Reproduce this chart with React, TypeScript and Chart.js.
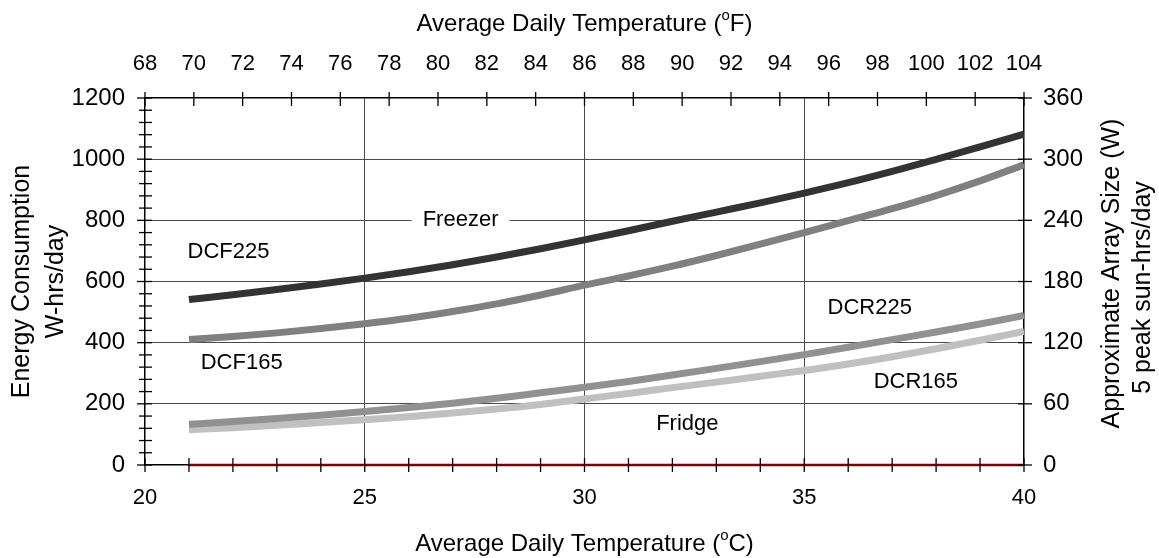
import React, { useEffect, useRef } from "react";
import { Chart, registerables } from "chart.js";

Chart.register(...registerables);

// ---- data ----
const tempC = [21, 22, 23, 24, 25, 26, 27, 28, 29, 30, 31, 32, 33, 34, 35, 36, 37, 38, 39, 40];
const dcf225 = [541, 557, 574, 592, 611, 632, 655, 680, 707, 736, 766, 797, 827, 857, 889, 923, 960, 999, 1040, 1082];
const dcf165 = [410, 420, 432, 446, 462, 480, 502, 527, 556, 588, 618, 650, 685, 722, 760, 799, 838, 881, 929, 982];
const dcr225 = [133, 142, 152, 163, 175, 188, 202, 218, 236, 254, 273, 294, 316, 338, 361, 385, 410, 435, 461, 489];
const dcr165 = [115, 122, 130, 139, 148, 158, 170, 183, 198, 216, 234, 253, 271, 290, 309, 330, 354, 380, 408, 437];
const baselineX = [21, 40];
const baselineY = [0, 0];

const tempCTicks = [20, 25, 30, 35, 40];
const tempFTicks = [68, 70, 72, 74, 76, 78, 80, 82, 84, 86, 88, 90, 92, 94, 96, 98, 100, 102, 104];
const energyTicks = [0, 200, 400, 600, 800, 1000, 1200];
const arrayTicks = [0, 60, 120, 180, 240, 300, 360];

const curveLabels = [
  { text: "Freezer", x: 27.18, y: 800, boxed: true },
  { text: "DCF225", x: 21.9, y: 696, boxed: false },
  { text: "DCF165", x: 22.2, y: 335, boxed: false },
  { text: "Fridge", x: 32.34, y: 133, boxed: false },
  { text: "DCR225", x: 36.49, y: 514, boxed: false },
  { text: "DCR165", x: 37.54, y: 273, boxed: false },
];

const FONT = '"Liberation Sans", Arial, Helvetica, sans-serif';
const X_TICK_SIZE = 22;
const Y_TICK_SIZE = 24;
const LABEL_SIZE = 22;
const TITLE_SIZE = 24;
const VTITLE_SIZE = 25;

const pts = (xs: number[], ys: number[]) => xs.map((x, i) => ({ x, y: ys[i] }));

const overlayPlugin = {
  id: "overlay",
  afterDatasetsDraw(chart: any) {
    const { ctx, scales } = chart;
    const sx = scales.x;
    const sy = scales.y;
    ctx.save();
    ctx.font = `${LABEL_SIZE}px ${FONT}`;
    ctx.textAlign = "center";
    ctx.textBaseline = "middle";
    for (const l of curveLabels) {
      const px = sx.getPixelForValue(l.x);
      const py = sy.getPixelForValue(l.y);
      if (l.boxed) {
        const w = ctx.measureText(l.text).width + 22;
        ctx.fillStyle = "#ffffff";
        ctx.fillRect(px - w / 2, py - 12, w, 24);
      }
      ctx.fillStyle = "#000000";
      ctx.fillText(l.text, px, py);
    }
    ctx.restore();
  },
  afterDraw(chart: any) {
    const { ctx, scales, chartArea } = chart;
    const { left, right, top, bottom } = chartArea;
    ctx.save();
    ctx.strokeStyle = "#000000";
    ctx.lineWidth = 1.3;
    const line = (x1: number, y1: number, x2: number, y2: number) => {
      ctx.beginPath();
      ctx.moveTo(x1, y1);
      ctx.lineTo(x2, y2);
      ctx.stroke();
    };
    // left axis: minor every 40, major every 200
    const sy = scales.y;
    for (let v = sy.min; v <= sy.max + 0.001; v += 40) {
      const p = sy.getPixelForValue(v);
      const major = v % 200 === 0;
      line(left - (major ? 8 : 6), p, left + 7, p);
    }
    // right axis
    const sy2 = scales.y2;
    for (const v of arrayTicks) {
      const p = sy2.getPixelForValue(v);
      line(right - 6, p, right + 8, p);
    }
    // bottom axis: every 1 degC
    const sx = scales.x;
    for (let v = sx.min; v <= sx.max + 0.001; v += 1) {
      const p = sx.getPixelForValue(v);
      line(p, bottom - 7, p, bottom + 7);
    }
    // top axis: every 2 degF
    const sx2 = scales.x2;
    for (const v of tempFTicks) {
      const p = sx2.getPixelForValue(v);
      line(p, top - 6, p, top + 8);
    }

    // axis titles
    ctx.fillStyle = "#000000";
    ctx.textBaseline = "middle";
    const cx = (left + right) / 2;
    const cy = (top + bottom) / 2;
    const supTitle = (pre: string, sup: string, post: string, x: number, y: number) => {
      const big = `${TITLE_SIZE}px ${FONT}`;
      const small = `${Math.round(TITLE_SIZE * 0.62)}px ${FONT}`;
      ctx.font = big;
      const w1 = ctx.measureText(pre).width;
      const w3 = ctx.measureText(post).width;
      ctx.font = small;
      const w2 = ctx.measureText(sup).width;
      let x0 = x - (w1 + w2 + w3) / 2;
      ctx.textAlign = "left";
      ctx.font = big;
      ctx.fillText(pre, x0, y);
      x0 += w1;
      ctx.font = small;
      ctx.fillText(sup, x0, y - 8);
      x0 += w2;
      ctx.font = big;
      ctx.fillText(post, x0, y);
    };
    supTitle("Average Daily Temperature (", "o", "F)", cx, 24);
    supTitle("Average Daily Temperature (", "o", "C)", cx, 544);

    ctx.font = `${VTITLE_SIZE}px ${FONT}`;
    ctx.textAlign = "center";
    const vtext = (t: string, x: number, y: number) => {
      ctx.save();
      ctx.translate(x, y);
      ctx.rotate(-Math.PI / 2);
      ctx.fillText(t, 0, 0);
      ctx.restore();
    };
    vtext("Energy Consumption", 22, cy);
    vtext("W-hrs/day", 56, cy);
    vtext("Approximate Array Size (W)", 1112, cy - 8);
    vtext("5 peak sun-hrs/day", 1143, cy + 6);
    ctx.restore();
  },
};

export default function App() {
  const ref = useRef<HTMLCanvasElement | null>(null);

  useEffect(() => {
    if (!ref.current) return;
    const xFont = { family: FONT, size: X_TICK_SIZE };
    const yFont = { family: FONT, size: Y_TICK_SIZE };
    const plain = (v: any) => String(v);
    const gridColor = (ctx: any) => {
      const v = ctx.tick ? ctx.tick.value : null;
      const s = ctx.scale;
      if (v === s.min || v === s.max) return "rgba(0,0,0,0)";
      return "#4a4a4a";
    };
    const curve = (label: string, ys: number[], color: string, order: number) => ({
      label,
      data: pts(tempC, ys),
      borderColor: color,
      borderWidth: 7,
      pointRadius: 0,
      cubicInterpolationMode: "monotone",
      fill: false,
      order,
    });
    const chart = new Chart(ref.current, {
      type: "line",
      data: {
        datasets: [
          curve("DCF225", dcf225, "#333333", 4),
          curve("DCF165", dcf165, "#808080", 3),
          curve("DCR225", dcr225, "#919191", 1),
          curve("DCR165", dcr165, "#c0c0c0", 2),
          {
            label: "Zero",
            data: pts(baselineX, baselineY),
            borderColor: "#800000",
            borderWidth: 2.5,
            pointRadius: 0,
            fill: false,
            clip: false as any,
            order: 0,
          },
        ] as any,
      },
      options: {
        animation: false,
        responsive: false,
        devicePixelRatio: 1,
        layout: { padding: 0 },
        plugins: {
          legend: { display: false },
          tooltip: { enabled: false },
          title: { display: false },
        },
        scales: {
          x: {
            type: "linear",
            position: "bottom",
            min: 20,
            max: 40,
            afterBuildTicks: (s: any) => {
              s.ticks = tempCTicks.map((v) => ({ value: v }));
            },
            ticks: { font: xFont, color: "#000", padding: 20, maxRotation: 0, callback: plain },
            grid: { color: gridColor, lineWidth: 1, drawTicks: false },
            border: { color: "#000", width: 1.5 },
            afterFit: (s: any) => {
              s.height = 93;
            },
          },
          x2: {
            type: "linear",
            position: "top",
            min: 68,
            max: 104,
            afterBuildTicks: (s: any) => {
              s.ticks = tempFTicks.map((v) => ({ value: v }));
            },
            ticks: { font: xFont, color: "#000", padding: 21, maxRotation: 0, autoSkip: false, callback: plain },
            grid: { display: false, drawTicks: false },
            border: { color: "#000", width: 1.5 },
            afterFit: (s: any) => {
              s.height = 98;
            },
          },
          y: {
            type: "linear",
            position: "left",
            min: 0,
            max: 1200,
            afterBuildTicks: (s: any) => {
              s.ticks = energyTicks.map((v) => ({ value: v }));
            },
            ticks: { font: yFont, color: "#000", padding: 20, callback: plain },
            grid: { color: gridColor, lineWidth: 1, drawTicks: false },
            border: { color: "#000", width: 1.5 },
            afterFit: (s: any) => {
              s.width = 145;
            },
          },
          y2: {
            type: "linear",
            position: "right",
            min: 0,
            max: 360,
            afterBuildTicks: (s: any) => {
              s.ticks = arrayTicks.map((v) => ({ value: v }));
            },
            ticks: { font: yFont, color: "#000", padding: 19, callback: plain },
            grid: { display: false, drawTicks: false },
            border: { color: "#000", width: 1.5 },
            afterFit: (s: any) => {
              s.width = 135;
            },
          },
        },
      } as any,
      plugins: [overlayPlugin],
    });
    return () => chart.destroy();
  }, []);

  return (
    <div style={{ position: "absolute", left: 0, top: 0, width: 1159, height: 558, background: "#fff" }}>
      <canvas ref={ref} width={1159} height={558} style={{ display: "block", width: 1159, height: 558 }} />
    </div>
  );
}
